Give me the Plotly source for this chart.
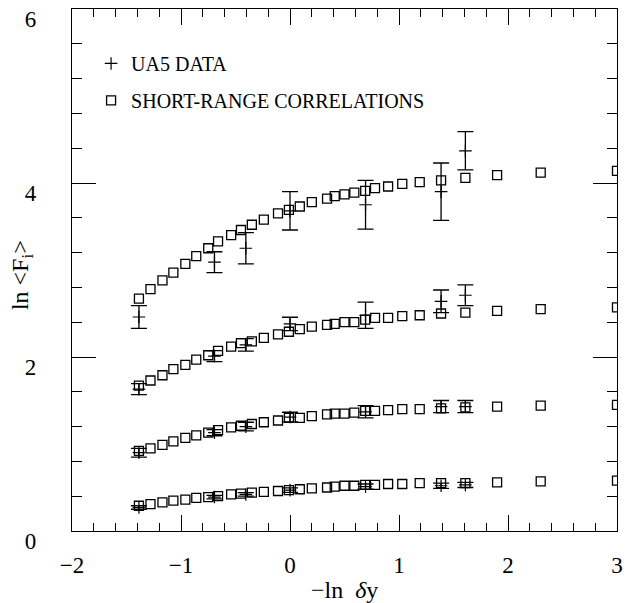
import plotly.graph_objects as go

# ---- data ----
# model (short-range correlations) x positions, -ln(dy)
x_model = [-1.386, -1.28, -1.17, -1.07, -0.96, -0.86, -0.75, -0.66, -0.54, -0.45,
           -0.35, -0.24, -0.11, -0.01, 0.09, 0.20, 0.34, 0.41, 0.50, 0.59,
           0.69, 0.78, 0.90, 1.03, 1.19, 1.386, 1.609, 1.90, 2.30, 3.00]
src_f5 = [2.67, 2.78, 2.88, 2.97, 3.07, 3.16, 3.25, 3.33, 3.40, 3.46,
          3.52, 3.58, 3.65, 3.69, 3.73, 3.78, 3.82, 3.85, 3.87, 3.89,
          3.91, 3.94, 3.96, 3.99, 4.01, 4.03, 4.06, 4.09, 4.12, 4.14]
src_f4 = [1.67, 1.73, 1.79, 1.86, 1.91, 1.97, 2.02, 2.07, 2.12, 2.16,
          2.18, 2.22, 2.26, 2.29, 2.32, 2.35, 2.37, 2.38, 2.40, 2.40,
          2.43, 2.45, 2.45, 2.47, 2.48, 2.50, 2.51, 2.53, 2.55, 2.57]
src_f3 = [0.92, 0.95, 0.99, 1.03, 1.07, 1.10, 1.13, 1.16, 1.19, 1.21,
          1.23, 1.25, 1.27, 1.30, 1.30, 1.32, 1.34, 1.35, 1.35, 1.36,
          1.38, 1.38, 1.39, 1.40, 1.40, 1.41, 1.42, 1.43, 1.44, 1.45]
src_f2 = [0.29, 0.31, 0.33, 0.35, 0.36, 0.38, 0.39, 0.40, 0.42, 0.43,
          0.44, 0.45, 0.46, 0.47, 0.48, 0.49, 0.50, 0.51, 0.52, 0.52,
          0.53, 0.53, 0.54, 0.54, 0.55, 0.55, 0.55, 0.56, 0.57, 0.58]

# UA5 data
x_data = [-1.386, -0.693, -0.405, 0.0, 0.693, 1.386, 1.609]
ua5_f5 = [2.46, 3.09, 3.25, 3.68, 3.75, 3.90, 4.37]
ua5_f5_err = [0.13, 0.12, 0.18, 0.22, 0.28, 0.33, 0.22]
ua5_f4 = [1.63, 2.01, 2.14, 2.38, 2.48, 2.64, 2.71]
ua5_f4_err = [0.063, 0.063, 0.072, 0.077, 0.15, 0.13, 0.12]
ua5_f3 = [0.90, 1.13, 1.20, 1.31, 1.37, 1.43, 1.43]
ua5_f3_err = [0.05, 0.035, 0.05, 0.055, 0.07, 0.07, 0.07]
ua5_f2 = [0.27, 0.39, 0.42, 0.47, 0.51, 0.52, 0.53]
ua5_f2_err = [0.02, 0.02, 0.02, 0.025, 0.03, 0.03, 0.03]

x_ticks = [-2, -1, 0, 1, 2, 3]
y_ticks = [0, 2, 4, 6]

FONT = "Liberation Serif"

src_x = x_model * 4
src_y = src_f5 + src_f4 + src_f3 + src_f2
ua_x = x_data * 4
ua_y = ua5_f5 + ua5_f4 + ua5_f3 + ua5_f2
ua_e = ua5_f5_err + ua5_f4_err + ua5_f3_err + ua5_f2_err

fig = go.Figure()
fig.add_trace(go.Scatter(
    x=ua_x, y=ua_y, mode="markers", name="UA5 DATA", legendgroup="a",
    marker=dict(symbol="cross-thin", size=9, line=dict(color="black", width=1.2), color="black"),
    error_y=dict(type="data", array=ua_e, visible=True, color="black", thickness=1.3, width=8),
))
fig.add_trace(go.Scatter(
    x=src_x, y=src_y, mode="markers", name="SHORT-RANGE CORRELATIONS", legendgroup="b",
    marker=dict(symbol="square-open", size=9, color="black", line=dict(color="black", width=1.3)),
))

axis_common = dict(
    showline=True, linecolor="black", linewidth=1.3, mirror="ticks",
    ticks="inside", tickcolor="black", tickwidth=1.2,
    showgrid=False, zeroline=False, automargin=False,
    tickfont=dict(family=FONT, size=23, color="black"),
)

fig.update_xaxes(
    range=[-2, 3], tickvals=x_ticks, ticklen=16, ticklabelstandoff=13,
    minor=dict(ticks="inside", ticklen=8, dtick=0.2, tickcolor="black", tickwidth=1.2, showgrid=False),
    **axis_common,
)
fig.update_yaxes(
    range=[0, 6], tickvals=y_ticks, ticklen=24, ticklabelstandoff=30, ticklabelshift=10,
    minor=dict(ticks="inside", ticklen=10, dtick=0.4, tickcolor="black", tickwidth=1.2, showgrid=False),
    **axis_common,
)

fig.add_annotation(text="−ln&nbsp; <i>δ</i>y", xref="paper", yref="paper", x=0.5, y=-0.113,
                   xanchor="center", yanchor="middle", showarrow=False,
                   font=dict(family=FONT, size=24, color="black"))
fig.add_annotation(text="ln&nbsp;&lt;F<sub>i</sub>&gt;", xref="paper", yref="paper", x=-0.092, y=0.49,
                   xanchor="center", yanchor="middle", showarrow=False, textangle=-90,
                   font=dict(family=FONT, size=24, color="black"))

fig.update_layout(
    width=634, height=603,
    margin=dict(l=72, r=17, t=9, b=72),
    plot_bgcolor="white", paper_bgcolor="white",
    showlegend=True,
    legend=dict(x=0.035, y=0.933, xanchor="left", yanchor="top",
                font=dict(family=FONT, size=20, color="black"),
                bgcolor="rgba(0,0,0,0)", tracegroupgap=8, itemwidth=30),
)

# remove the page's default 8px body margin so the figure fills the window exactly
fig.write_html("out.html", config={"displayModeBar": False},
               post_script="document.body.style.margin='0px';")
